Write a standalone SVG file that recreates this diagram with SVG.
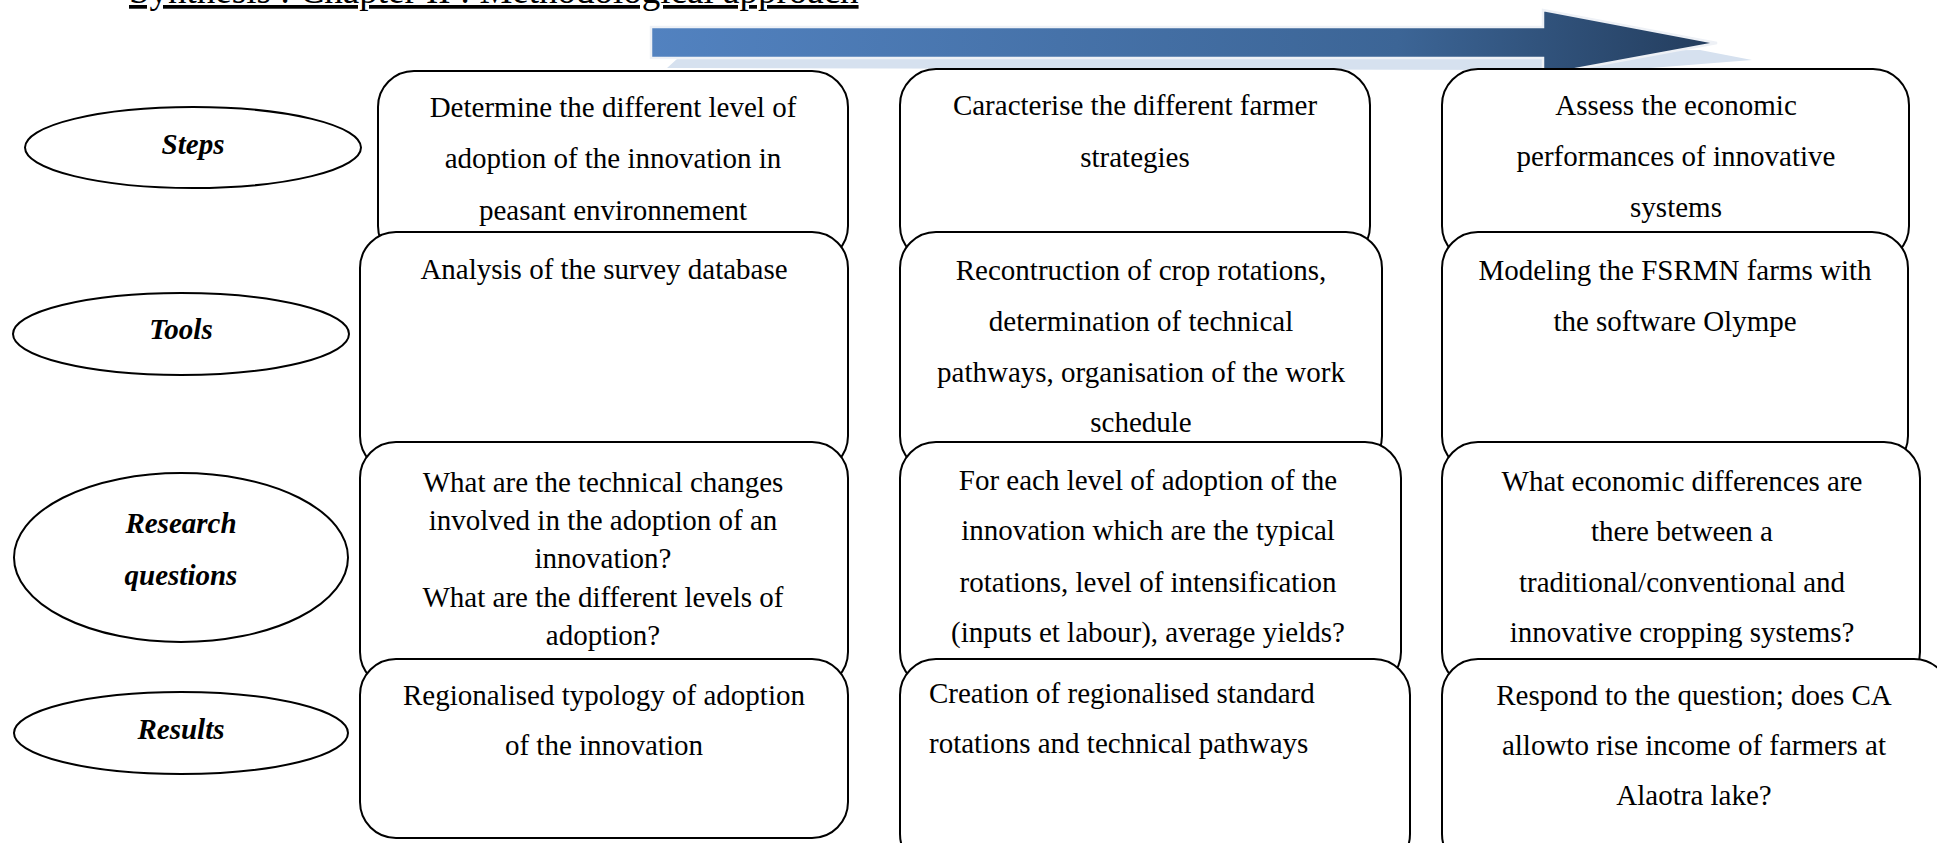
<svg xmlns="http://www.w3.org/2000/svg" width="1937" height="843" viewBox="0 0 1937 843">
<style>
.box{fill:#fff;stroke:#000;stroke-width:2}
.ell{fill:#fff;stroke:#000;stroke-width:2}
.t{font-family:"Liberation Serif","Times New Roman",serif;font-size:29px;fill:#000;text-anchor:middle}
.lbl{font-weight:bold;font-style:italic}
.l{text-anchor:start}
</style>
<defs>
<linearGradient id="ag" gradientUnits="userSpaceOnUse" x1="651" y1="10" x2="1717" y2="75">
<stop offset="0" stop-color="#5282c0"/>
<stop offset="0.7" stop-color="#3c6596"/>
<stop offset="1" stop-color="#233c5c"/>
</linearGradient>
</defs>
<rect width="1937" height="843" fill="#fff"/>

<text class="t" x="129" y="3" style="text-anchor:start;font-size:37px;text-decoration:underline">Synthesis : Chapter II : Methodological approach</text>

<g id="connectors">
<g id="process-arrow">
<polygon points="677,59 1700,50 1752,60 1600,72 1543,70 667,68" fill="#d6e1ef"/>
<polygon points="651,27 1543,27 1543,10 1717,43 1543,75 1543,58 651,58" fill="url(#ag)" stroke="#eef1f6" stroke-width="2.5"/>
</g>
</g>

<g id="label-steps"><ellipse class="ell" cx="193" cy="147.5" rx="168" ry="40.5"/><text class="t lbl" x="193" y="154">Steps</text></g>
<g id="label-tools"><ellipse class="ell" cx="181" cy="334" rx="168" ry="41"/><text class="t lbl" x="181" y="339">Tools</text></g>
<g id="label-research"><ellipse class="ell" cx="181" cy="557.5" rx="167" ry="84.5"/><text class="t lbl" x="181" y="533">Research</text><text class="t lbl" x="181" y="585">questions</text></g>
<g id="label-results"><ellipse class="ell" cx="181" cy="733" rx="167" ry="41"/><text class="t lbl" x="181" y="739">Results</text></g>

<!-- row 1: steps -->
<g id="steps-1"><rect class="box" x="378" y="71" width="470" height="191" rx="36"/>
<text class="t" x="613" y="117">Determine the different level of</text>
<text class="t" x="613" y="168">adoption of the innovation in</text>
<text class="t" x="613" y="220">peasant environnement</text></g>
<g id="steps-2"><rect class="box" x="900" y="69" width="470" height="193" rx="36"/>
<text class="t" x="1135" y="115">Caracterise the different farmer</text>
<text class="t" x="1135" y="167">strategies</text></g>
<g id="steps-3"><rect class="box" x="1442" y="69" width="467" height="193" rx="36"/>
<text class="t" x="1676" y="115">Assess the economic</text>
<text class="t" x="1676" y="166">performances of innovative</text>
<text class="t" x="1676" y="217">systems</text></g>

<!-- row 2: tools -->
<g id="tools-1"><rect class="box" x="360" y="232" width="488" height="240" rx="36"/>
<text class="t" x="604" y="279">Analysis of the survey database</text></g>
<g id="tools-2"><rect class="box" x="900" y="232" width="482" height="240" rx="36"/>
<text class="t" x="1141" y="280">Recontruction of crop rotations,</text>
<text class="t" x="1141" y="331">determination of technical</text>
<text class="t" x="1141" y="382">pathways, organisation of the work</text>
<text class="t" x="1141" y="432">schedule</text></g>
<g id="tools-3"><rect class="box" x="1442" y="232" width="466" height="240" rx="36"/>
<text class="t" x="1675" y="280">Modeling the FSRMN farms with</text>
<text class="t" x="1675" y="331">the software Olympe</text></g>

<!-- row 3: research questions -->
<g id="rq-1"><rect class="box" x="360" y="442" width="488" height="246" rx="36"/>
<text class="t" x="603" y="492">What are the technical changes</text>
<text class="t" x="603" y="530">involved in the adoption of an</text>
<text class="t" x="603" y="568">innovation?</text>
<text class="t" x="603" y="607">What are the different levels of</text>
<text class="t" x="603" y="645">adoption?</text></g>
<g id="rq-2"><rect class="box" x="900" y="442" width="501" height="246" rx="36"/>
<text class="t" x="1148" y="490">For each level of adoption of the</text>
<text class="t" x="1148" y="540">innovation which are the typical</text>
<text class="t" x="1148" y="592">rotations, level of intensification</text>
<text class="t" x="1148" y="642">(inputs et labour), average yields?</text></g>
<g id="rq-3"><rect class="box" x="1442" y="442" width="478" height="246" rx="36"/>
<text class="t" x="1682" y="491">What economic differences are</text>
<text class="t" x="1682" y="541">there between a</text>
<text class="t" x="1682" y="592">traditional/conventional and</text>
<text class="t" x="1682" y="642">innovative cropping systems?</text></g>

<!-- row 4: results -->
<g id="results-1"><rect class="box" x="360" y="659" width="488" height="179" rx="36"/>
<text class="t" x="604" y="705">Regionalised typology of adoption</text>
<text class="t" x="604" y="755">of the innovation</text></g>
<g id="results-2"><rect class="box" x="900" y="659" width="510" height="211" rx="36"/>
<text class="t l" x="929" y="703">Creation of regionalised standard</text>
<text class="t l" x="929" y="753">rotations and technical pathways</text></g>
<g id="results-3"><rect class="box" x="1442" y="659" width="508" height="211" rx="36"/>
<text class="t" x="1694" y="705">Respond to the question; does CA</text>
<text class="t" x="1694" y="755">allowto rise income of farmers at</text>
<text class="t" x="1694" y="805">Alaotra lake?</text></g>
</svg>
